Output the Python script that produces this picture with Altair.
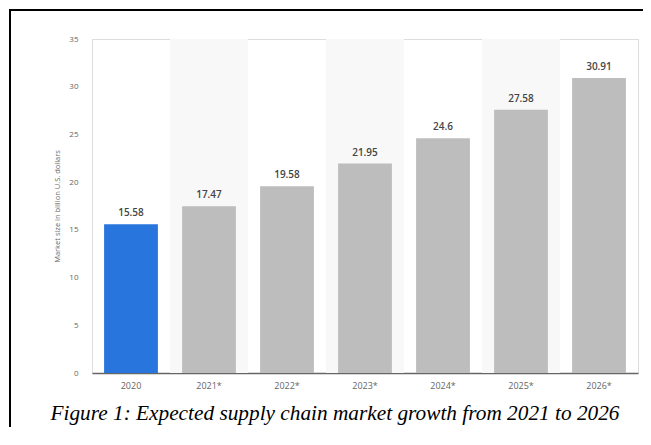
import altair as alt
import pandas as pd

years = ["2020", "2021*", "2022*", "2023*", "2024*", "2025*", "2026*"]
values = [15.58, 17.47, 19.58, 21.95, 24.6, 27.58, 30.91]
status = ["actual", "forecast", "forecast", "forecast", "forecast", "forecast", "forecast"]
shaded = [False, True, False, True, False, True, False]
caption = "Figure 1: Expected supply chain market growth from 2021 to 2026"

df = pd.DataFrame({"year": years, "value": values, "status": status, "shaded": shaded})
df["label"] = [f"{v:g}" for v in values]

x = alt.X("year:N", sort=years, title=None,
          scale=alt.Scale(paddingInner=0, paddingOuter=0),
          axis=alt.Axis(labelAngle=0, labelColor="#666", labelFontSize=9, labelFont="Open Sans",
                        labelPadding=8, ticks=False, domainColor="#666", domainWidth=1.5,
                        grid=False))

y_scale = alt.Scale(domain=[0, 35])

shade = alt.Chart(df).transform_filter(alt.datum.shaded).mark_bar(
    color="#f8f8f8", width=alt.RelativeBandSize(1.0)
).encode(x=x, y=alt.datum(35, scale=y_scale), y2=alt.datum(0))

bars = alt.Chart(df).mark_bar(width=alt.RelativeBandSize(0.69)).encode(
    x=x,
    y=alt.Y("value:Q", scale=y_scale, title="Market size in billion U.S. dollars",
            axis=alt.Axis(values=[0, 5, 10, 15, 20, 25, 30, 35], labelColor="#666",
                          labelFontSize=8, labelFont="Open Sans", labelPadding=14,
                          ticks=False, domain=False, gridColor="#d9d9d9", gridDash=[1, 1],
                          titleFontSize=7.5, titleFont="Open Sans", titleFontWeight="normal",
                          titleColor="#666", titlePadding=7)),
    color=alt.Color("status:N", scale=alt.Scale(domain=["actual", "forecast"],
                                                range=["#2876dd", "#bdbdbd"]), legend=None),
)

labels = alt.Chart(df).mark_text(baseline="bottom", dy=-6, fontSize=10, font="Open Sans",
                                 fontWeight=600, color="#444").encode(
    x=x, y=alt.Y("value:Q", scale=y_scale), text="label:N")

cap = alt.Chart(pd.DataFrame({"t": [caption]})).mark_text(
    font="Liberation Serif", fontStyle="italic", fontSize=21.3, color="black",
    align="center", baseline="middle").encode(
    x=alt.value(243), y=alt.value(375), text="t:N")

frame = alt.Chart(pd.DataFrame({"t": [caption]})).mark_rect(
    filled=False, stroke="black", strokeWidth=2).encode(
    x=alt.value(-82), x2=alt.value(700), y=alt.value(-29), y2=alt.value(600))

chart = alt.layer(shade, bars, labels, cap, frame).properties(
    width=546, height=334,
    autosize=alt.AutoSizeParams(type="none"),
    padding={"left": 84, "top": 31, "right": 5, "bottom": 54},
).configure_view(stroke=None).configure(background="white")

chart.save("out.html", embed_options={"renderer": "svg", "actions": False})
